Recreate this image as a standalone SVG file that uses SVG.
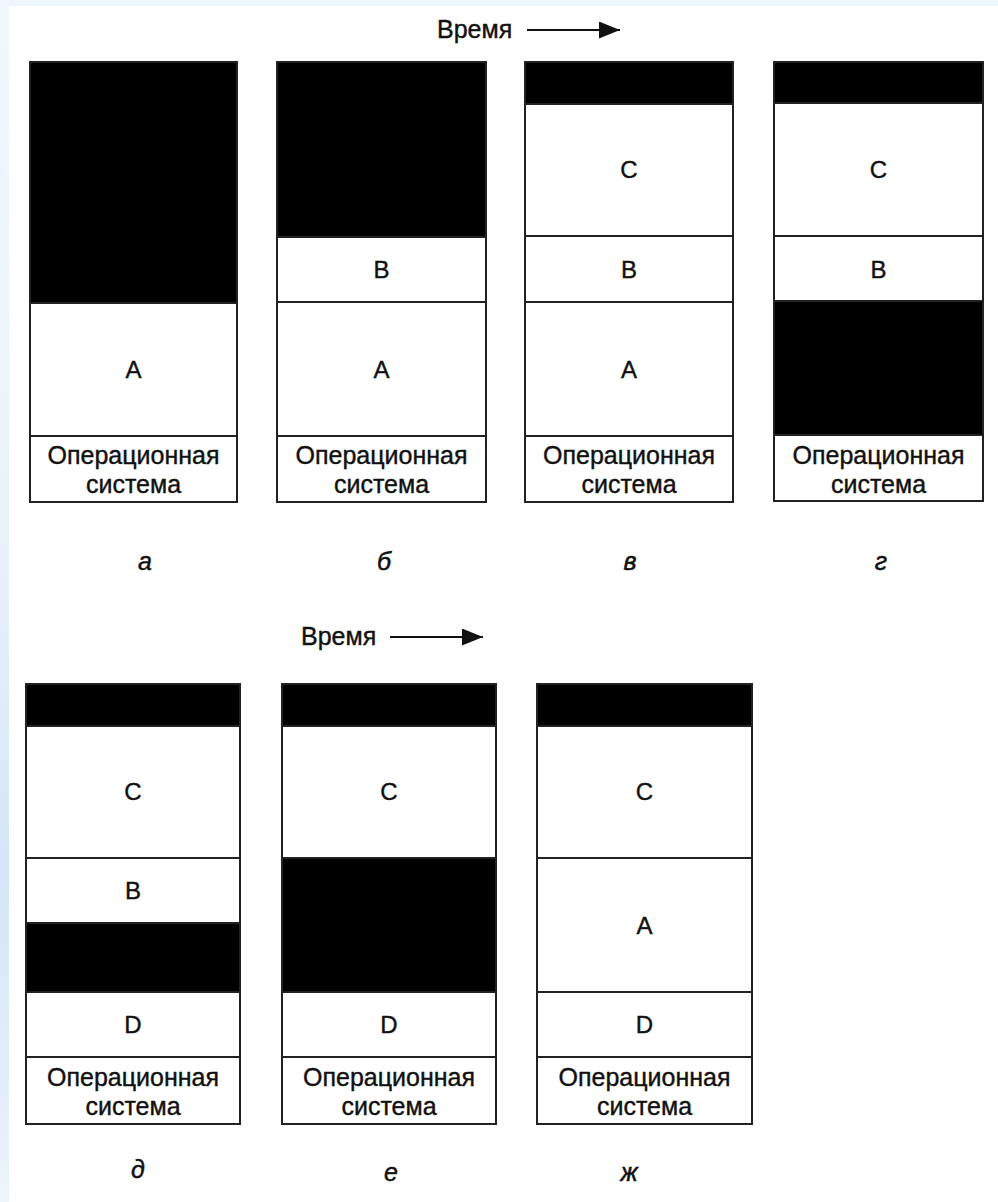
<svg xmlns="http://www.w3.org/2000/svg" width="998" height="1202" viewBox="0 0 998 1202">
<defs>
<linearGradient id="leftStrip" x1="0" y1="0" x2="0" y2="1">
<stop offset="0" stop-color="#f1f7fd"/>
<stop offset="0.45" stop-color="#e9f2fb"/>
<stop offset="0.72" stop-color="#d4e6f8"/>
<stop offset="0.9" stop-color="#e2eefa"/>
<stop offset="1" stop-color="#edf4fc"/>
</linearGradient>
<marker id="arrowhead" viewBox="0 0 21 17" refX="21" refY="8.5" markerWidth="21" markerHeight="17" markerUnits="userSpaceOnUse" orient="auto">
<path d="M0,0 L21,8.5 L0,17 Z" fill="#111"/>
</marker>
<style>
.w{fill:#fff;stroke:#222;stroke-width:2}
.k{fill:#000;stroke:#222;stroke-width:2}
.t{font-family:"Liberation Sans",Arial,sans-serif;font-size:24px;fill:#111;stroke:#111;stroke-width:0.4;text-anchor:middle}
.os{font-family:"Liberation Sans",Arial,sans-serif;font-size:25px;fill:#111;stroke:#111;stroke-width:0.4;text-anchor:middle}
.lab{font-family:"Liberation Sans",Arial,sans-serif;font-size:25px;font-style:italic;fill:#111;stroke:#111;stroke-width:0.5;text-anchor:middle}
.tm{font-family:"Liberation Sans",Arial,sans-serif;font-size:25px;fill:#111;stroke:#111;stroke-width:0.4}
.ar{stroke:#111;stroke-width:2;fill:none}
</style>
</defs>
<rect x="0" y="0" width="998" height="1202" fill="#eef5fc"/>
<rect x="0" y="0" width="9" height="1202" fill="url(#leftStrip)"/>
<rect x="9" y="6" width="989" height="1196" fill="#fff"/>

<g id="time-arrows">
<text class="tm" x="437" y="38">Время</text>
<line class="ar" x1="527" y1="30" x2="620" y2="30" marker-end="url(#arrowhead)"/>
<text class="tm" x="301" y="645">Время</text>
<line class="ar" x1="390" y1="637" x2="483" y2="637" marker-end="url(#arrowhead)"/>
</g>

<g id="col-a">
<rect class="k" x="30" y="62" width="207" height="241"/>
<rect class="w" x="30" y="303" width="207" height="133"/>
<text class="t" x="133.5" y="378">A</text>
<rect class="w" x="30" y="436" width="207" height="66"/>
<text class="os" x="133.5" y="464">Операционная</text>
<text class="os" x="133.5" y="493">система</text>
<text class="lab" x="145" y="570">а</text>
</g>

<g id="col-b">
<rect class="k" x="277" y="62" width="209" height="175"/>
<rect class="w" x="277" y="237" width="209" height="65"/>
<text class="t" x="381.5" y="278">B</text>
<rect class="w" x="277" y="302" width="209" height="134"/>
<text class="t" x="381.5" y="378">A</text>
<rect class="w" x="277" y="436" width="209" height="66"/>
<text class="os" x="381.5" y="464">Операционная</text>
<text class="os" x="381.5" y="493">система</text>
<text class="lab" x="384" y="570">б</text>
</g>

<g id="col-c">
<rect class="k" x="525" y="62" width="208" height="42"/>
<rect class="w" x="525" y="104" width="208" height="132"/>
<text class="t" x="629" y="178">C</text>
<rect class="w" x="525" y="236" width="208" height="66"/>
<text class="t" x="629" y="278">B</text>
<rect class="w" x="525" y="302" width="208" height="134"/>
<text class="t" x="629" y="378">A</text>
<rect class="w" x="525" y="436" width="208" height="66"/>
<text class="os" x="629" y="464">Операционная</text>
<text class="os" x="629" y="493">система</text>
<text class="lab" x="630" y="570">в</text>
</g>

<g id="col-g">
<rect class="k" x="774" y="62" width="209" height="41"/>
<rect class="w" x="774" y="103" width="209" height="133"/>
<text class="t" x="878.5" y="178">C</text>
<rect class="w" x="774" y="236" width="209" height="65"/>
<text class="t" x="878.5" y="278">B</text>
<rect class="k" x="774" y="301" width="209" height="134"/>
<rect class="w" x="774" y="435" width="209" height="66"/>
<text class="os" x="878.5" y="464">Операционная</text>
<text class="os" x="878.5" y="493">система</text>
<text class="lab" x="881" y="570">г</text>
</g>

<g id="col-d">
<rect class="k" x="26" y="684" width="214" height="42"/>
<rect class="w" x="26" y="726" width="214" height="132"/>
<text class="t" x="133" y="800">C</text>
<rect class="w" x="26" y="858" width="214" height="65"/>
<text class="t" x="133" y="899">B</text>
<rect class="k" x="26" y="923" width="214" height="69"/>
<rect class="w" x="26" y="992" width="214" height="65"/>
<text class="t" x="133" y="1033">D</text>
<rect class="w" x="26" y="1057" width="214" height="67"/>
<text class="os" x="133" y="1086">Операционная</text>
<text class="os" x="133" y="1115">система</text>
<text class="lab" x="138" y="1178">д</text>
</g>

<g id="col-e">
<rect class="k" x="282" y="684" width="214" height="42"/>
<rect class="w" x="282" y="726" width="214" height="132"/>
<text class="t" x="389" y="800">C</text>
<rect class="k" x="282" y="858" width="214" height="134"/>
<rect class="w" x="282" y="992" width="214" height="65"/>
<text class="t" x="389" y="1033">D</text>
<rect class="w" x="282" y="1057" width="214" height="67"/>
<text class="os" x="389" y="1086">Операционная</text>
<text class="os" x="389" y="1115">система</text>
<text class="lab" x="391" y="1181">е</text>
</g>

<g id="col-zh">
<rect class="k" x="537" y="684" width="215" height="42"/>
<rect class="w" x="537" y="726" width="215" height="132"/>
<text class="t" x="644.5" y="800">C</text>
<rect class="w" x="537" y="858" width="215" height="134"/>
<text class="t" x="644.5" y="934">A</text>
<rect class="w" x="537" y="992" width="215" height="65"/>
<text class="t" x="644.5" y="1033">D</text>
<rect class="w" x="537" y="1057" width="215" height="67"/>
<text class="os" x="644.5" y="1086">Операционная</text>
<text class="os" x="644.5" y="1115">система</text>
<text class="lab" x="629" y="1181">ж</text>
</g>
</svg>
